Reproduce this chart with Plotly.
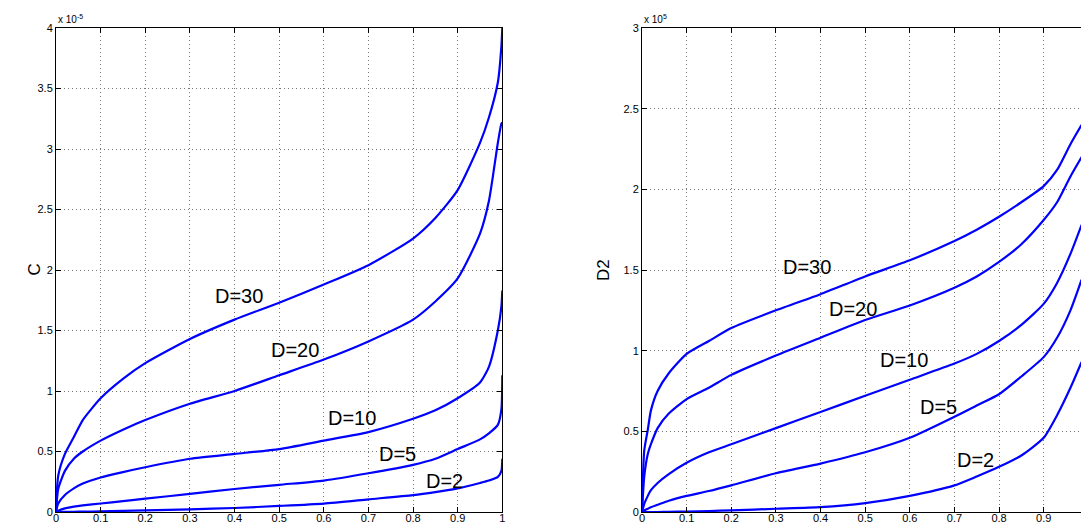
import plotly.graph_objects as go

# ---------------- data ----------------
# Left panel: C (x 1e-5) vs x
x_left = [0, 0.005, 0.02, 0.04, 0.06, 0.1, 0.15, 0.2, 0.3, 0.4, 0.5, 0.6, 0.7,
          0.8, 0.85, 0.9, 0.95, 0.97, 0.99, 0.998, 1.0]
c_d30 = [0, 0.30, 0.48, 0.62, 0.76, 0.94, 1.10, 1.23, 1.43, 1.59, 1.73, 1.88, 2.04,
         2.26, 2.43, 2.66, 3.05, 3.26, 3.55, 3.85, 4.0]
c_d20 = [0, 0.19, 0.34, 0.44, 0.50, 0.59, 0.68, 0.76, 0.895, 1.0, 1.13, 1.26, 1.41,
         1.59, 1.74, 1.93, 2.30, 2.57, 3.05, 3.21, 3.22]
c_d10 = [0, 0.07, 0.14, 0.195, 0.235, 0.285, 0.33, 0.37, 0.44, 0.48, 0.52, 0.59, 0.66,
         0.77, 0.84, 0.94, 1.07, 1.20, 1.50, 1.70, 1.83]
c_d5 = [0, 0.01, 0.03, 0.045, 0.055, 0.07, 0.09, 0.11, 0.15, 0.19, 0.225, 0.26, 0.32,
        0.39, 0.44, 0.52, 0.60, 0.65, 0.72, 0.85, 1.13]
c_d2 = [0, 0.0, 0.001, 0.002, 0.003, 0.005, 0.009, 0.014, 0.022, 0.033, 0.05, 0.07, 0.105,
        0.14, 0.165, 0.195, 0.24, 0.26, 0.29, 0.34, 0.44]

# Right panel: D2 (x 1e5) vs x
x_right = [0, 0.005, 0.013, 0.02, 0.035, 0.06, 0.1, 0.15, 0.2, 0.3, 0.4, 0.5, 0.6, 0.7,
           0.75, 0.8, 0.85, 0.9, 0.93, 0.96, 0.985]
d2_d30 = [0, 0.38, 0.51, 0.63, 0.75, 0.86, 0.98, 1.06, 1.14, 1.25, 1.35, 1.46, 1.56, 1.68,
          1.75, 1.83, 1.92, 2.02, 2.12, 2.28, 2.40]
d2_d20 = [0, 0.22, 0.36, 0.42, 0.52, 0.61, 0.70, 0.77, 0.85, 0.97, 1.08, 1.19, 1.28, 1.39,
          1.46, 1.55, 1.66, 1.81, 1.92, 2.08, 2.20]
d2_d10 = [0, 0.05, 0.10, 0.135, 0.18, 0.235, 0.305, 0.37, 0.42, 0.52, 0.62, 0.72, 0.82, 0.92,
          0.98, 1.06, 1.16, 1.29, 1.42, 1.60, 1.78]
d2_d5 = [0, 0.01, 0.02, 0.03, 0.045, 0.07, 0.10, 0.13, 0.165, 0.24, 0.30, 0.37, 0.46, 0.59,
         0.66, 0.73, 0.84, 0.96, 1.08, 1.25, 1.44]
d2_d2 = [0, 0.0, 0.0, 0.0, 0.0, 0.001, 0.003, 0.006, 0.01, 0.02, 0.03, 0.055, 0.10, 0.165,
         0.22, 0.28, 0.35, 0.46, 0.60, 0.77, 0.93]

left_labels = ["D=30", "D=20", "D=10", "D=5", "D=2"]
left_label_x = [0.41, 0.536, 0.664, 0.766, 0.87]
left_label_y = [1.785, 1.34, 0.78, 0.48, 0.26]
right_labels = ["D=30", "D=20", "D=10", "D=5", "D=2"]
right_label_x = [0.369, 0.472, 0.587, 0.665, 0.747]
right_label_y = [1.516, 1.26, 0.94, 0.65, 0.32]

xticks = [0, 0.1, 0.2, 0.3, 0.4, 0.5, 0.6, 0.7, 0.8, 0.9, 1]
xtick_text = ["0", "0.1", "0.2", "0.3", "0.4", "0.5", "0.6", "0.7", "0.8", "0.9", "1"]
left_yticks = [0, 0.5, 1, 1.5, 2, 2.5, 3, 3.5, 4]
left_ytick_text = ["0", "0.5", "1", "1.5", "2", "2.5", "3", "3.5", "4"]
right_yticks = [0, 0.5, 1, 1.5, 2, 2.5, 3]
right_ytick_text = ["0", "0.5", "1", "1.5", "2", "2.5", "3"]

# ---------------- figure ----------------
W, H = 1081, 525
FONT = "Liberation Sans, Arial, Helvetica, sans-serif"
BLUE = "#0000ff"

fig = go.Figure()
for ys in [c_d30, c_d20, c_d10, c_d5, c_d2]:
    fig.add_trace(go.Scatter(x=x_left, y=ys, mode="lines", xaxis="x", yaxis="y",
                             line=dict(color=BLUE, width=2.2, shape="spline", smoothing=0.6),
                             showlegend=False, hoverinfo="skip"))
for ys in [d2_d30, d2_d20, d2_d10, d2_d5, d2_d2]:
    fig.add_trace(go.Scatter(x=x_right, y=ys, mode="lines", xaxis="x2", yaxis="y2",
                             line=dict(color=BLUE, width=2.2, shape="spline", smoothing=0.6),
                             showlegend=False, hoverinfo="skip"))

left_x0, left_x1 = 56 / W, 502.3 / W
right_x0 = 642 / W
right_range_end = (W - 642) / 446.3

common = dict(showgrid=True, gridcolor="#777777", gridwidth=1, griddash="1px,3px",
              zeroline=False, showline=True, linecolor="black", linewidth=1,
              ticks="inside", ticklen=5, tickcolor="black", tickwidth=1,
              tickfont=dict(family=FONT, size=11, color="black"))

fig.update_layout(
    width=W, height=H,
    margin=dict(l=0, r=0, t=28, b=13, autoexpand=False),
    paper_bgcolor="white", plot_bgcolor="white",
    xaxis=dict(domain=[left_x0, left_x1], range=[0, 1], anchor="y",
               tickvals=xticks, ticktext=xtick_text, mirror="allticks",
               ticklabelstandoff=-4, **common),
    yaxis=dict(domain=[0, 1], range=[0, 4], anchor="x",
               tickvals=left_yticks, ticktext=left_ytick_text, mirror="allticks",
               **common),
    xaxis2=dict(domain=[right_x0, 1.0], range=[0, right_range_end], anchor="y2",
                tickvals=xticks, ticktext=xtick_text, mirror="allticks",
                ticklabelstandoff=-4, **common),
    yaxis2=dict(domain=[0, 1], range=[0, 3], anchor="x2",
                tickvals=right_yticks, ticktext=right_ytick_text, mirror=False,
                **common),
)

annotations = []
for t, x, y in zip(left_labels, left_label_x, left_label_y):
    annotations.append(dict(x=x, y=y, xref="x", yref="y", text=t, showarrow=False,
                            font=dict(family=FONT, size=20, color="black")))
for t, x, y in zip(right_labels, right_label_x, right_label_y):
    annotations.append(dict(x=x, y=y, xref="x2", yref="y2", text=t, showarrow=False,
                            font=dict(family=FONT, size=20, color="black")))
# axis titles
annotations.append(dict(x=22 / W, y=0.5, xref="paper", yref="paper", text="C",
                        textangle=-90, showarrow=False,
                        font=dict(family=FONT, size=17, color="black")))
annotations.append(dict(x=603 / W, y=0.5, xref="paper", yref="paper", text="D2",
                        textangle=-90, showarrow=False,
                        font=dict(family=FONT, size=17, color="black")))
# exponent labels
annotations.append(dict(x=left_x0, y=1.0, xref="paper", yref="paper",
                        text="x 10<sup>-5</sup>", showarrow=False, xanchor="left",
                        yanchor="bottom", yshift=1,
                        font=dict(family=FONT, size=10, color="black")))
annotations.append(dict(x=right_x0, y=1.0, xref="paper", yref="paper",
                        text="x 10<sup>5</sup>", showarrow=False, xanchor="left",
                        yanchor="bottom", yshift=1,
                        font=dict(family=FONT, size=10, color="black")))
fig.update_layout(annotations=annotations)

fig.write_html("out.html")
